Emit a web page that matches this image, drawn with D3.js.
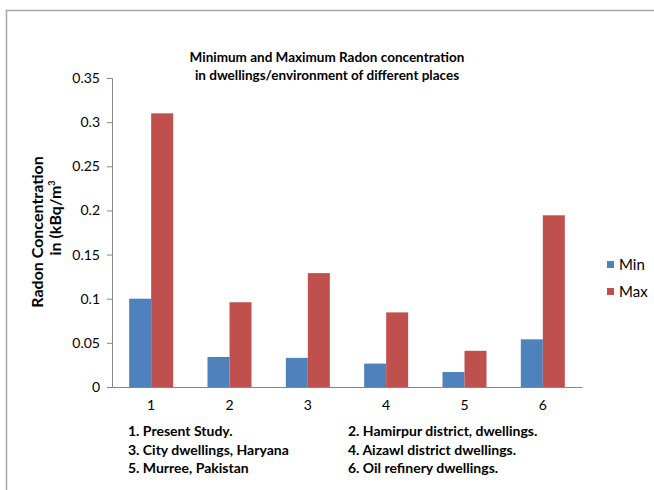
<!DOCTYPE html>
<html>
<head>
<meta charset="utf-8">
<script src="https://cdn.jsdelivr.net/npm/d3@7"></script>
<style>
  body { margin: 0; background: #fff; }
  svg text { font-family: Lato, "Open Sans", sans-serif; }
</style>
</head>
<body>
<div id="chart"></div>
<script>
// data
var categories = ["1", "2", "3", "4", "5", "6"];
var seriesNames = ["Min", "Max"];
var minValues = [0.1, 0.034, 0.033, 0.0265, 0.017, 0.054];
var maxValues = [0.31, 0.096, 0.129, 0.0845, 0.041, 0.1945];
var yTicks = [0, 0.05, 0.1, 0.15, 0.2, 0.25, 0.3, 0.35];
var placeNotes = [
  "1. Present Study.", "2. Hamirpur district, dwellings.",
  "3. City dwellings, Haryana", "4. Aizawl district dwellings.",
  "5. Murree, Pakistan", "6. Oil refinery dwellings."
];
var colors = ["#4F81BD", "#C0504D"];

var svgWidth = 654, svgHeight = 490;
var margin = { top: 78, right: 72, bottom: 103, left: 112 };
var width = svgWidth - margin.left - margin.right;
var height = svgHeight - margin.top - margin.bottom;

var svg = d3.select("#chart")
  .append("svg")
  .attr("width", svgWidth)
  .attr("height", svgHeight);

// chart area frame (only top and left edge are in view)
svg.append("path")
  .attr("d", "M6.5,490 V10.5 H654")
  .attr("fill", "none")
  .attr("stroke", "#a6a6a6")
  .attr("stroke-width", 1.5);

var g = svg.append("g")
  .attr("transform", "translate(" + margin.left + "," + margin.top + ")");

var rows = categories.map(function(c, i) {
  return { name: c, values: [minValues[i], maxValues[i]] };
});

var x0 = d3.scaleBand()
  .domain(categories)
  .range([0, width]);

var x1 = d3.scaleBand()
  .domain(seriesNames)
  .range([0, x0.bandwidth()])
  .paddingOuter(0.78);

var yScale = d3.scaleLinear()
  .domain([0, 0.35])
  .range([height, 0]);

// bars
g.selectAll(".group")
  .data(rows)
  .enter().append("g")
  .attr("class", "group")
  .attr("transform", function(d) { return "translate(" + x0(d.name) + ",0)"; })
  .selectAll("rect")
  .data(function(d) { return d.values.map(function(v, j) { return { key: seriesNames[j], value: v, idx: j }; }); })
  .enter().append("rect")
  .attr("x", function(d) { return x1(d.key); })
  .attr("y", function(d) { return yScale(d.value); })
  .attr("width", x1.bandwidth())
  .attr("height", function(d) { return height - yScale(d.value); })
  .attr("fill", function(d) { return colors[d.idx]; });

// y axis
var yAxis = g.append("g")
  .call(d3.axisLeft(yScale).tickValues(yTicks).tickSize(5).tickPadding(7)
    .tickFormat(function(d) { return d3.format("")(+d.toFixed(2)); }));
yAxis.select(".domain").attr("stroke", "#868686");
yAxis.selectAll(".tick line").attr("stroke", "#868686");
yAxis.selectAll("text").attr("fill", "#000").style("font-size", "14px")
  .style("font-family", "Lato, sans-serif");

// x axis
var xAxis = g.append("g")
  .attr("transform", "translate(0," + height + ")")
  .call(d3.axisBottom(x0).tickSize(0).tickPadding(13));
xAxis.select(".domain").attr("stroke", "#868686");
xAxis.selectAll("text").attr("fill", "#000").style("font-size", "14px")
  .style("font-family", "Lato, sans-serif");

// title
var title = svg.append("text")
  .attr("x", 327)
  .attr("text-anchor", "middle")
  .style("font-size", "13.5px")
  .style("font-weight", "bold");
title.append("tspan").attr("x", 327).attr("y", 62).text("Minimum and Maximum Radon concentration");
title.append("tspan").attr("x", 327).attr("y", 80).text("in dwellings/environment of different places");

// y axis label
var ylab = svg.append("text")
  .attr("transform", "translate(43,232) rotate(-90)")
  .attr("text-anchor", "middle")
  .style("font-size", "16px")
  .style("font-weight", "bold");
ylab.append("tspan").attr("x", 0).attr("y", 0).text("Radon Concentration");
ylab.append("tspan").attr("x", 14).attr("y", 18).text("in (kBq/m");
ylab.append("tspan").attr("dy", -6).style("font-size", "9px").text("3");

// legend
var legend = svg.append("g").attr("transform", "translate(607,261)");
seriesNames.forEach(function(s, i) {
  var item = legend.append("g").attr("transform", "translate(0," + (i * 27) + ")");
  item.append("rect").attr("width", 7).attr("height", 7).attr("fill", colors[i]);
  item.append("text").attr("x", 12).attr("y", 9).style("font-size", "15px").text(s);
});

// notes under the axis
placeNotes.forEach(function(t, i) {
  svg.append("text")
    .attr("x", i % 2 === 0 ? 128 : 348)
    .attr("y", 436 + Math.floor(i / 2) * 18.5)
    .style("font-size", "14px")
    .style("font-weight", "bold")
    .text(t);
});
</script>
</body>
</html>
